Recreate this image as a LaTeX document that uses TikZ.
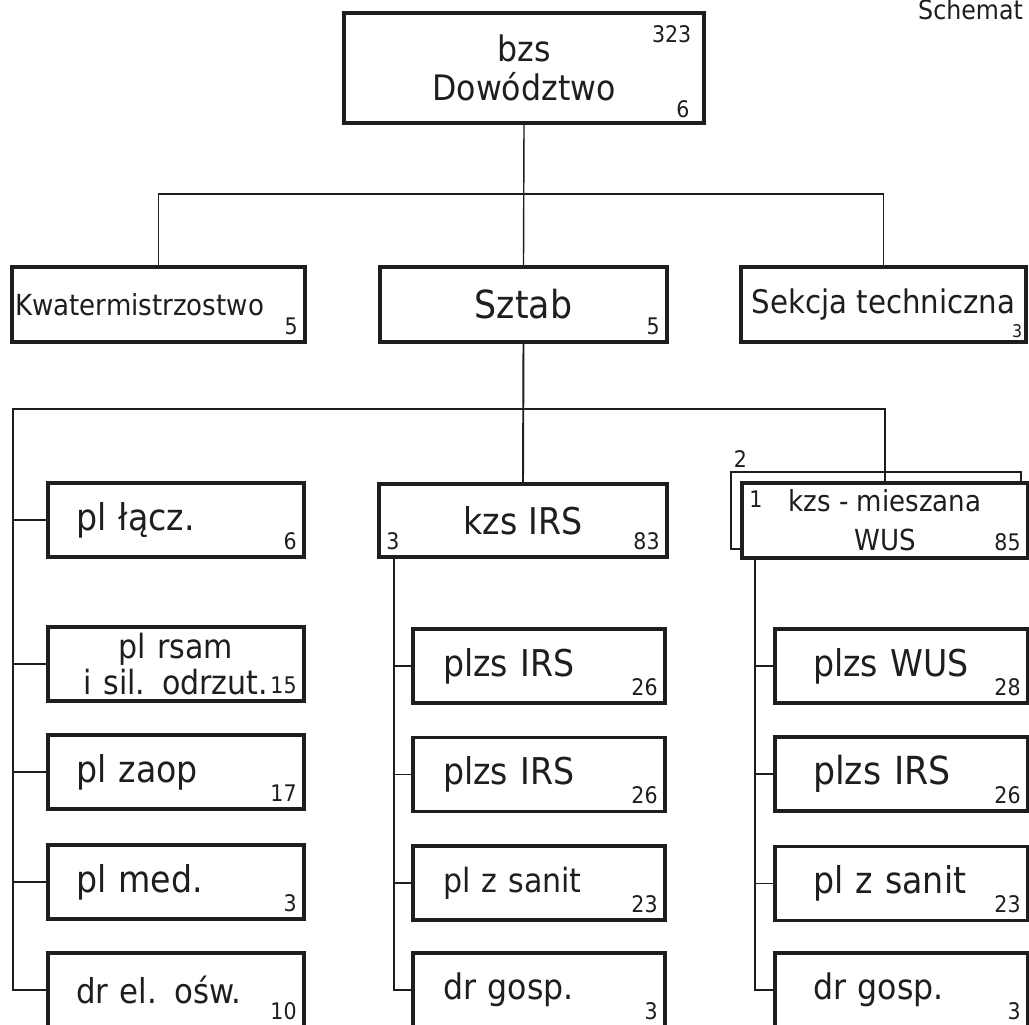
\documentclass[tikz,border=0pt]{standalone}
\usepackage{fontspec}
\setmainfont{DejaVu Sans}[FakeStretch=0.9]
\usepackage{xcolor}
\usetikzlibrary{calc}
\definecolor{ink}{HTML}{1e1e1e}
\tikzset{
  unit/.style={draw=ink, line width=2pt, inner sep=0pt, text=ink,
    font=\fontsize{21}{24}\selectfont, minimum height=1.48cm},
  fs/.style={font=\fontsize{#1}{22}\selectfont},
  num/.style={text=ink, font=\fontsize{13}{15}\selectfont, inner sep=5pt},
  link/.style={draw=ink, line width=1.1pt},
  lcol/.style={unit, minimum width=5.12cm, text width=4cm, inner xsep=0.56cm, align=left},
  mcol/.style={unit, minimum width=5.04cm, text width=3.84cm, inner xsep=0.6cm, align=left},
  rcol/.style={unit, minimum width=5.06cm, text width=3.54cm, inner xsep=0.76cm, align=left}
}
\begin{document}
\begin{tikzpicture}[x=0.02cm, y=-0.02cm]
\useasboundingbox[fill=white] (0,0) rectangle (1029,1025);
% head
\node[unit, minimum width=7.2cm, minimum height=2.2cm, align=center, fs=20] (bzs) at (524,68) {bzs\\Dowództwo};
\node[num, anchor=north east, inner sep=8pt] at (bzs.north east) {323};
\node[num, anchor=south east, inner xsep=9pt, inner ysep=4pt] at (bzs.south east) {6};
\node[anchor=base west, text=ink, fs=15] (schem) at (912,19) {Schemat};
%
% second level
\node[unit, minimum width=5.86cm, minimum height=1.5cm, text width=5.74cm, inner xsep=0.06cm, align=left, fs=16.5] (kwat) at (158.5,304.5) {Kwatermistrzostwo};
\node[unit, minimum width=5.74cm, minimum height=1.5cm, fs=22] (sztab) at (523.5,304.5) {Sztab};
\node[unit, minimum width=5.7cm, minimum height=1.5cm, fs=18.5] (sekcja) at (883.5,304.5) {Sekcja techniczna};
\node[num, anchor=south east] at (kwat.south east) {5};
\node[num, anchor=south east] at (sztab.south east) {5};
\node[num, anchor=south east, inner sep=3pt, font=\fontsize{10}{12}\selectfont] at (sekcja.south east) {3};
%
\coordinate (bus1) at (524,194);
\draw[link, line width=0.8pt] (bzs.south) -- (sztab.north);
\draw[link] (kwat.north) |- (bus1) -| (sekcja.north);
%
% kompanie
\node[unit, minimum width=5.76cm, minimum height=1.46cm] (kzs) at (523,520.5) {kzs IRS};
\node[num, anchor=south west] at (kzs.south west) {3};
\node[num, anchor=south east] at (kzs.south east) {83};
\node[unit, line width=1.3pt, minimum width=5.8cm, minimum height=1.54cm] (kzsw2) at (876,510.5) {};
\node[unit, fill=white, minimum width=5.72cm, minimum height=1.5cm, align=center, fs=16.5] (kzsw) at (885,520.5) {kzs - mieszana\\WUS};
\node[num, anchor=north west] at (kzsw.north west) {1};
\node[num, anchor=south west, inner sep=2pt] at (kzsw2.north west) {2};
\node[num, anchor=south east] at (kzsw.south east) {85};
%
% left column
\node[lcol] (lacz) at (176,520) {pl łącz.};
\node[lcol, align=center, font=\fontsize{19}{20}\selectfont] (rsam) at (176,664) {pl rsam\\i sil. odrzut.};
\node[lcol] (zaop) at (176,772) {pl zaop};
\node[lcol] (med) at (176,882) {pl med.};
\node[lcol, fs=19.5] (drel) at (176,990) {dr el. ośw.};
\node[num, anchor=south east] at (lacz.south east) {6};
\node[num, anchor=south east] at (rsam.south east) {15};
\node[num, anchor=south east] at (zaop.south east) {17};
\node[num, anchor=south east] at (med.south east) {3};
\node[num, anchor=south east] at (drel.south east) {10};
%
% middle column
\node[mcol] (irs1) at (539,666) {plzs IRS};
\node[mcol] (irs2) at (539,774.5) {plzs IRS};
\node[mcol, fs=19] (san) at (539,883) {pl z sanit};
\node[mcol, fs=20] (gosp) at (539,990) {dr gosp.};
\node[num, anchor=south east] at (irs1.south east) {26};
\node[num, anchor=south east] at (irs2.south east) {26};
\node[num, anchor=south east] at (san.south east) {23};
\node[num, anchor=south east] at (gosp.south east) {3};
%
% right column
\node[rcol] (wus) at (901.5,666) {plzs WUS};
\node[rcol, fs=22] (irs3) at (901.5,774) {plzs IRS};
\node[rcol] (san2) at (901.5,883.5) {pl z sanit};
\node[rcol, fs=20] (gosp2) at (901.5,990) {dr gosp.};
\node[num, anchor=south east] at (wus.south east) {28};
\node[num, anchor=south east] at (irs3.south east) {26};
\node[num, anchor=south east] at (san2.south east) {23};
\node[num, anchor=south east] at (gosp2.south east) {3};
%
% links
\coordinate (trunkL) at (13,409);
\coordinate (bus2) at (524,409);
\coordinate (trunkM) at ($(kzs.south west)+(17,0)$);
\coordinate (trunkR) at ($(kzsw.south west)+(15,0)$);
\draw[link] (sztab.south) -- (kzs.north);
\draw[link] (drel.west) -| (trunkL) -- (bus2) -| (kzsw.north);
\foreach \b in {lacz,rsam,zaop,med} \draw[link] (\b.west) -- (\b.west -| trunkL);
\draw[link] (trunkM) |- (gosp.west);
\foreach \b in {irs1,irs2,san} \draw[link] (\b.west) -- (\b.west -| trunkM);
\draw[link] (trunkR) |- (gosp2.west);
\foreach \b in {wus,irs3,san2} \draw[link] (\b.west) -- (\b.west -| trunkR);
\end{tikzpicture}
\end{document}
